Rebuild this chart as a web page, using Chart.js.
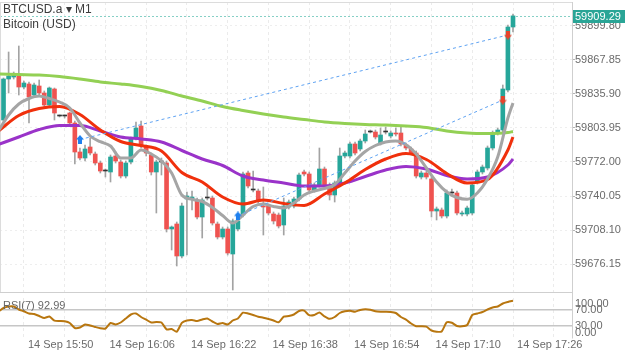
<!DOCTYPE html>
<html>
<head>
<meta charset="utf-8">
<script src="https://cdn.jsdelivr.net/npm/chart.js@4/dist/chart.umd.min.js"></script>
<style>
  body { margin: 0; background: #fff; }
  #wrap { position: relative; width: 625px; height: 352px; overflow: hidden; font-family: "Liberation Sans", Arial, sans-serif; }
  canvas { position: absolute; left: 0; }
  .lbl { position: absolute; white-space: nowrap; }
</style>
</head>
<body>
<div id="wrap">
  <canvas id="main" width="625" height="293" style="top:0"></canvas>
  <canvas id="rsi" width="625" height="59" style="top:293px"></canvas>
  <div class="lbl" style="left:3px;top:2px;font-size:12px;color:#3c3c3c">BTCUSD.a ▾ M1</div>
  <div class="lbl" style="left:3px;top:17px;font-size:12px;color:#3c3c3c">Bitcoin (USD)</div>
  <div class="lbl" style="left:3px;top:299px;font-size:11px;color:#666">RSI(7) 92.99</div>
</div>
<script>
// M1 candles, index 0 = 15:38 ... index 100 = 17:18
const opens = [
  59811.47, 59849.99, 59851.87, 59852.81, 59842.48, 59845.30, 59834.96, 59843.42, 59836.84, 59825.56,
  59840.60, 59815.23, 59815.23, 59818.05, 59808.65, 59781.40, 59775.76, 59786.10, 59779.52, 59771.06,
  59763.54, 59762.61, 59777.64, 59772.00, 59758.85, 59772.00, 59794.55, 59805.83, 59786.10, 59778.58,
  59762.61, 59772.00, 59771.06, 59709.04, 59713.74, 59683.67, 59737.23, 59737.23, 59736.29, 59720.32,
  59738.17, 59738.17, 59713.74, 59701.53, 59709.04, 59685.55, 59709.04, 59722.20, 59761.67, 59745.69,
  59744.75, 59730.66, 59730.66, 59723.14, 59722.20, 59712.80, 59729.72, 59730.66, 59737.23, 59762.61,
  59760.73, 59745.69, 59750.39, 59765.42, 59750.39, 59740.99, 59752.27, 59777.64, 59777.64, 59788.92,
  59784.22, 59791.73, 59800.19, 59800.19, 59789.86, 59800.19, 59796.43, 59799.25, 59799.25, 59787.98,
  59784.22, 59780.46, 59757.91, 59761.67, 59756.03, 59725.96, 59726.90, 59721.26, 59742.87, 59742.87,
  59723.14, 59723.14, 59724.08, 59753.21, 59762.61, 59766.36, 59785.16, 59799.25, 59802.07, 59839.66,
  59898.86];
const highs = [
  59850.93, 59875.37, 59856.57, 59881.00, 59848.12, 59847.18, 59846.24, 59849.06, 59838.72, 59842.48,
  59841.54, 59816.17, 59816.17, 59818.99, 59810.53, 59785.16, 59787.98, 59794.55, 59781.40, 59772.94,
  59765.42, 59778.58, 59781.40, 59773.88, 59772.94, 59795.49, 59809.59, 59810.53, 59787.98, 59780.46,
  59773.88, 59775.76, 59772.94, 59711.86, 59715.62, 59733.47, 59743.81, 59744.75, 59738.17, 59738.17,
  59747.57, 59740.05, 59715.62, 59710.92, 59710.92, 59718.44, 59718.44, 59762.61, 59763.54, 59763.54,
  59746.63, 59748.51, 59732.53, 59725.02, 59724.08, 59738.17, 59736.29, 59739.11, 59761.67, 59764.48,
  59762.61, 59752.27, 59785.16, 59767.30, 59752.27, 59754.15, 59785.16, 59782.34, 59790.80, 59790.80,
  59793.61, 59802.07, 59802.07, 59802.07, 59803.95, 59804.89, 59801.13, 59803.95, 59804.89, 59789.86,
  59786.10, 59782.34, 59763.54, 59763.54, 59757.91, 59729.72, 59728.78, 59745.69, 59746.63, 59744.75,
  59725.96, 59730.66, 59752.27, 59764.48, 59769.18, 59787.04, 59801.13, 59803.95, 59844.36, 59900.74,
  59911.07];
const lows = [
  59810.53, 59836.84, 59849.99, 59834.96, 59840.60, 59808.65, 59833.08, 59834.96, 59822.74, 59823.68,
  59811.47, 59814.29, 59813.35, 59807.71, 59770.12, 59773.88, 59772.94, 59778.58, 59769.18, 59761.67,
  59757.91, 59753.21, 59771.06, 59756.97, 59756.97, 59770.12, 59792.67, 59785.16, 59777.64, 59759.79,
  59724.08, 59759.79, 59706.22, 59689.31, 59674.28, 59681.79, 59684.61, 59726.90, 59718.44, 59700.59,
  59736.29, 59712.80, 59699.65, 59699.65, 59684.61, 59651.72, 59707.16, 59720.32, 59747.57, 59743.81,
  59733.47, 59703.41, 59722.20, 59713.74, 59709.98, 59703.41, 59727.84, 59728.78, 59735.35, 59758.85,
  59743.81, 59743.81, 59748.51, 59748.51, 59736.29, 59734.41, 59750.39, 59775.76, 59775.76, 59778.58,
  59782.34, 59789.86, 59799.25, 59793.61, 59787.98, 59798.31, 59794.55, 59796.43, 59787.04, 59783.28,
  59778.58, 59756.97, 59756.03, 59756.03, 59720.32, 59717.50, 59719.38, 59719.38, 59740.05, 59722.20,
  59721.26, 59721.26, 59722.20, 59751.33, 59760.73, 59764.48, 59783.28, 59797.37, 59800.19, 59837.78,
  59894.16];
const closes = [
  59849.99, 59852.81, 59854.69, 59842.48, 59846.24, 59833.08, 59844.36, 59836.84, 59825.56, 59841.54,
  59818.05, 59815.23, 59815.23, 59808.65, 59781.40, 59775.76, 59784.22, 59780.46, 59771.06, 59763.54,
  59763.54, 59776.70, 59772.94, 59758.85, 59771.06, 59794.55, 59803.95, 59787.04, 59780.46, 59762.61,
  59772.00, 59772.00, 59709.04, 59710.92, 59683.67, 59730.66, 59740.05, 59739.11, 59720.32, 59736.29,
  59738.17, 59714.68, 59701.53, 59709.04, 59686.49, 59716.56, 59716.56, 59760.73, 59749.45, 59745.69,
  59735.35, 59729.72, 59724.08, 59716.56, 59711.86, 59730.66, 59734.41, 59737.23, 59759.79, 59760.73,
  59745.69, 59750.39, 59765.42, 59750.39, 59740.99, 59752.27, 59777.64, 59780.46, 59788.92, 59780.46,
  59791.73, 59798.31, 59800.19, 59795.49, 59797.37, 59800.19, 59799.25, 59798.31, 59788.92, 59785.16,
  59780.46, 59758.85, 59761.67, 59757.91, 59725.96, 59727.84, 59721.26, 59742.87, 59742.87, 59724.08,
  59724.08, 59728.78, 59750.39, 59762.61, 59767.30, 59785.16, 59799.25, 59802.07, 59840.60, 59898.86,
  59909.29];

// moving averages, read at these candle indexes (-1 = the bar just off the left edge)
const slowIdx = [-1, 3, 7, 11, 15, 19, 23, 27, 31, 35, 39, 43, 47, 51, 55, 59, 63, 67, 71, 75, 79, 83, 87, 91, 95, 99, 100];
const greenMa = [59854.69, 59854.22, 59853.75, 59852.34, 59849.99, 59847.18, 59845.30, 59842.95, 59839.19, 59834.02,
  59829.32, 59824.15, 59820.40, 59817.11, 59814.29, 59811.94, 59809.59, 59808.18, 59807.24, 59806.77,
  59805.83, 59804.42, 59801.13, 59799.25, 59798.78, 59799.72, 59800.66];
const purpleMa = [59788.45, 59795.49, 59802.54, 59806.30, 59806.30, 59801.13, 59795.49, 59793.61, 59790.80, 59782.81,
  59774.82, 59768.71, 59758.85, 59755.09, 59752.27, 59749.45, 59749.45, 59752.27, 59758.38, 59764.48,
  59767.77, 59765.42, 59759.32, 59756.03, 59757.91, 59769.18, 59774.82];
const redMa = [59801.13, 59815.70, 59822.27, 59824.15, 59816.64, 59802.07, 59791.26, 59787.51, 59782.34, 59762.14,
  59753.21, 59739.11, 59732.53, 59736.29, 59733.00, 59731.13, 59741.93, 59752.27, 59764.95, 59774.82,
  59779.99, 59774.35, 59761.20, 59752.27, 59755.56, 59783.28, 59795.49];
const grayIdx = [-1, 1, 3, 5, 7, 9, 11, 13, 15, 17, 19, 21, 23, 25, 27, 29, 31, 33, 35, 37, 39, 41, 43, 45, 47, 49,
  51, 53, 55, 57, 59, 61, 63, 65, 67, 69, 71, 73, 75, 77, 79, 81, 83, 85, 87, 89, 91, 93, 95, 97, 99, 100];
const grayMa = [59801.13, 59816.17, 59826.50, 59831.67, 59834.02, 59831.67, 59828.38, 59822.74, 59808.65, 59796.43,
  59791.07, 59787.04, 59775.76, 59775.76, 59783.28, 59779.52, 59772.94, 59761.67, 59740.99, 59736.95,
  59734.88, 59729.25, 59721.73, 59714.68, 59722.20, 59730.19, 59732.53, 59730.19, 59728.78, 59733.47,
  59740.99, 59744.75, 59747.10, 59750.86, 59761.67, 59772.94, 59781.87, 59787.51, 59790.80, 59791.73,
  59788.26, 59779.52, 59766.36, 59753.21, 59743.81, 59738.64, 59736.95, 59742.87, 59756.03, 59776.70,
  59813.35, 59827.44];

// trades: buy arrow -> sell arrow
const tradeOpenIdx = [15, 46];
const tradeOpenPrice = [59793.14, 59721.26];
const tradeCloseIdx = [99, 98];
const tradeClosePrice = [59891.34, 59830.26];

// RSI(7), first value is candle index -1
const rsiVals = [66.25,
  75, 78.75, 78.75, 71.25, 66.75, 61.25, 60, 55, 50, 53.75,
  43.25, 42.5, 41.75, 37.5, 25, 26.25, 33.75, 31.25, 27.5, 24.25,
  23.75, 37.5, 33.75, 38.75, 48.75, 58.75, 61.25, 52.5, 45.75, 38.75,
  40, 38.75, 21.75, 22.5, 15.75, 37.75, 43.75, 45, 42.5, 46.25,
  48.75, 41.25, 35, 37.5, 33.75, 43.75, 48.75, 63.25, 61.25, 57.5,
  53.25, 50.75, 47.5, 43.75, 39.25, 53.25, 55, 58.75, 67.5, 68.25,
  57, 57.5, 63.75, 54.25, 48, 52.5, 62.5, 66.75, 68, 65.75,
  70, 72, 70.75, 66.75, 65.75, 65.5, 65, 62.5, 52.5, 45.75,
  36.25, 29.5, 29.5, 28.5, 18.75, 15.75, 16.25, 39.25, 38, 30,
  29.25, 32.5, 57.5, 61.25, 65, 71.25, 76.25, 78.75, 86.25, 90,
  92.99];
const rsiLevels = [30, 70];
const rsiAxisLabels = [100, 70, 30, 0];

// axes
const priceTicks = [59676.15, 59708.10, 59740.05, 59772.00, 59803.95, 59835.90, 59867.85, 59899.80];
const gridIdx = [4, 12, 20, 28, 36, 44, 52, 60, 68, 76, 84, 92, 100, 108];
const timeTickIdx = [12, 28, 44, 60, 76, 92, 108];
const timeTickLabels = ['14 Sep 15:50', '14 Sep 16:06', '14 Sep 16:22', '14 Sep 16:38', '14 Sep 16:54', '14 Sep 17:10', '14 Sep 17:26'];

const AXIS_W = 53;
const X_MIN = -0.69, X_MAX = 111.58;
const Y_MIN = 59649.84, Y_MAX = 59922.35;
const UP = '#26a69a', DOWN = '#ef5350';
const FONT = '"Liberation Sans", Arial, sans-serif';

Chart.defaults.font.family = FONT;
Chart.defaults.font.size = 11;
Chart.defaults.color = '#6b6b6b';
Chart.defaults.animation = false;

function bodyColor(i) {
    if (closes[i] > opens[i]) return UP;
    if (closes[i] < opens[i]) return DOWN;
    return '#333';
}

// block arrow used for the trade marks
function arrowIcon(color, up) {
    const c = document.createElement('canvas');
    c.width = 8; c.height = 9;
    const g = c.getContext('2d');
    g.fillStyle = color;
    g.beginPath();
    if (up) {
        g.moveTo(4, 0); g.lineTo(8, 4.5); g.lineTo(6, 4.5); g.lineTo(6, 9);
        g.lineTo(2, 9); g.lineTo(2, 4.5); g.lineTo(0, 4.5);
    } else {
        g.moveTo(4, 9); g.lineTo(8, 4.5); g.lineTo(6, 4.5); g.lineTo(6, 0);
        g.lineTo(2, 0); g.lineTo(2, 4.5); g.lineTo(0, 4.5);
    }
    g.closePath();
    g.fill();
    return c;
}

function timeAxis(showLabels) {
    return {
        type: 'linear', min: X_MIN, max: X_MAX, offset: false,
        afterBuildTicks: s => { s.ticks = gridIdx.map(v => ({value: v})); },
        afterFit: s => {
            s.height = showLabels ? 14 : 0;
            s.paddingLeft = 0; s.paddingRight = 0;
        },
        grid: {color: '#ebebeb', offset: false, drawTicks: false},
        border: {display: !showLabels, color: '#cfcfcf', dash: [3, 3]},
        ticks: {
            display: showLabels, autoSkip: false, maxRotation: 0, padding: 0, labelOffset: -4,
            callback: v => {
                const k = timeTickIdx.indexOf(v);
                return k < 0 ? '' : timeTickLabels[k];
            }
        }
    };
}

// right-hand axis of fixed width, no label overhang padding
function fixAxis(s) {
    s.width = AXIS_W;
    s.paddingTop = 0;
    s.paddingBottom = 0;
}

// dotted last-price line, price tag and top frame line
const lastPricePlugin = {
    id: 'lastPrice',
    beforeDatasetsDraw(chart) {
        const {ctx, chartArea: a, scales: {y}} = chart;
        const py = Math.round(y.getPixelForValue(closes[closes.length - 1])) + 0.5;
        ctx.save();
        ctx.strokeStyle = '#86d0c6';
        ctx.lineWidth = 1;
        ctx.setLineDash([2, 2]);
        ctx.beginPath(); ctx.moveTo(a.left, py); ctx.lineTo(a.right, py); ctx.stroke();
        ctx.setLineDash([]);
        ctx.strokeStyle = '#dcdcdc';
        ctx.beginPath(); ctx.moveTo(a.left, a.top + 0.5); ctx.lineTo(a.right, a.top + 0.5); ctx.stroke();
        ctx.beginPath(); ctx.moveTo(a.left + 0.5, a.top); ctx.lineTo(a.left + 0.5, a.bottom); ctx.stroke();
        ctx.restore();
    },
    afterDraw(chart) {
        const {ctx, chartArea: a, scales: {y}} = chart;
        const last = closes[closes.length - 1];
        const py = Math.round(y.getPixelForValue(last));
        ctx.save();
        ctx.fillStyle = '#2aa596';
        ctx.fillRect(a.right + 1, py - 6, chart.width - a.right - 1, 13);
        ctx.fillStyle = '#fff';
        ctx.font = '11px ' + FONT;
        ctx.textBaseline = 'middle';
        ctx.fillText(last.toFixed(2), a.right + 3, py + 0.5);
        ctx.restore();
    }
};

const rsiLabelPlugin = {
    id: 'rsiLabels',
    afterDraw(chart) {
        const {ctx, chartArea: a, scales: {y}} = chart;
        ctx.save();
        ctx.font = '11px ' + FONT;
        ctx.fillStyle = '#6b6b6b';
        ctx.textAlign = 'left';
        rsiAxisLabels.forEach(v => {
            ctx.textBaseline = v === 100 ? 'top' : (v === 0 ? 'bottom' : 'middle');
            ctx.fillText(v.toFixed(2), a.right + 3, y.getPixelForValue(v));
        });
        // join the right border with the price pane
        ctx.strokeStyle = '#cfcfcf';
        ctx.lineWidth = 1;
        ctx.beginPath(); ctx.moveTo(a.right + 0.5, 0); ctx.lineTo(a.right + 0.5, a.top); ctx.stroke();
        ctx.restore();
    }
};

const maLine = (idx, vals, color, order) => ({
    type: 'line',
    data: idx.map((x, k) => ({x: x, y: vals[k]})),
    borderColor: color, borderWidth: 3, pointRadius: 0,
    cubicInterpolationMode: 'monotone', order: order
});

const tradeLines = tradeOpenIdx.map((x0, k) => ({
    type: 'line',
    data: [{x: x0, y: tradeOpenPrice[k]}, {x: tradeCloseIdx[k], y: tradeClosePrice[k]}],
    borderColor: '#5ea2f2', borderWidth: 1, borderDash: [3, 3], pointRadius: 0, order: 1
}));

new Chart(document.getElementById('main'), {
    type: 'bar',
    data: {
        datasets: [
            {
                type: 'line', showLine: false, order: 0,
                data: tradeOpenIdx.map((x, k) => ({x: x, y: tradeOpenPrice[k]})),
                pointStyle: arrowIcon('#1f80ee', true), pointRadius: 5
            },
            {
                type: 'line', showLine: false, order: 0,
                data: tradeCloseIdx.map((x, k) => ({x: x, y: tradeClosePrice[k]})),
                pointStyle: arrowIcon('#e8432c', false), pointRadius: 5
            },
            ...tradeLines,
            maLine(grayIdx, grayMa, '#a5a5a5', 2),
            maLine(slowIdx, redMa, '#f0300c', 3),
            maLine(slowIdx, purpleMa, '#9a33c9', 4),
            maLine(slowIdx, greenMa, '#93d054', 5),
            {
                data: opens.map((o, i) => ({x: i, y: [o, closes[i]]})),
                backgroundColor: opens.map((o, i) => bodyColor(i)),
                barThickness: 4, minBarLength: 1, grouped: false, order: 7
            },
            {
                data: opens.map((o, i) => ({x: i, y: [lows[i], highs[i]]})),
                backgroundColor: '#a3a3a3',
                barThickness: 1, grouped: false, order: 8
            }
        ]
    },
    options: {
        responsive: false,
        devicePixelRatio: 1,
        events: [],
        layout: {autoPadding: false, padding: {top: 2, bottom: 1, left: 0, right: 0}},
        plugins: {legend: {display: false}, tooltip: {enabled: false}},
        scales: {
            x: timeAxis(false),
            y: {
                position: 'right', min: Y_MIN, max: Y_MAX,
                afterBuildTicks: s => { s.ticks = priceTicks.map(v => ({value: v})); },
                afterFit: fixAxis,
                grid: {color: '#eeeeee', tickColor: '#b4b4b4', tickLength: 3, tickBorderDash: []},
                border: {color: '#cfcfcf', dash: [2, 3]},
                ticks: {padding: 0, callback: v => v.toFixed(2)}
            }
        }
    },
    plugins: [lastPricePlugin]
});

new Chart(document.getElementById('rsi'), {
    type: 'line',
    data: {
        datasets: [{
            data: rsiVals.map((v, k) => ({x: k - 1, y: v})),
            borderColor: '#b8760f', borderWidth: 2, pointRadius: 0, tension: 0.2
        }]
    },
    options: {
        responsive: false,
        devicePixelRatio: 1,
        events: [],
        layout: {autoPadding: false, padding: {top: 5, bottom: 0, left: 0, right: 0}},
        plugins: {legend: {display: false}, tooltip: {enabled: false}},
        scales: {
            x: timeAxis(true),
            y: {
                position: 'right', min: 0, max: 100,
                afterBuildTicks: s => { s.ticks = rsiLevels.map(v => ({value: v})); },
                afterFit: fixAxis,
                grid: {color: '#c6c6c6', lineWidth: 1.5, drawTicks: false},
                border: {color: '#cfcfcf'},
                ticks: {display: false}
            }
        }
    },
    plugins: [rsiLabelPlugin]
});
</script>
</body>
</html>
